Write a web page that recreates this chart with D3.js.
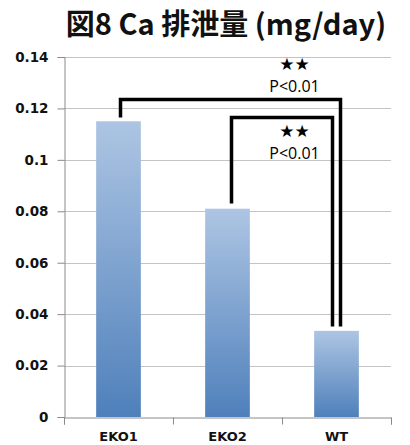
<!DOCTYPE html>
<html>
<head>
<meta charset="utf-8">
<script src="https://cdnjs.cloudflare.com/ajax/libs/d3/7.8.5/d3.min.js"></script>
<style>
  body { margin: 0; background: #fff; }
</style>
</head>
<body>
<div id="chart-area"></div>
<script>
// data
var categories = ["EKO1", "EKO2", "WT"];
var values = [0.115, 0.081, 0.0335];
var yTicks = [0, 0.02, 0.04, 0.06, 0.08, 0.1, 0.12, 0.14];
var titleText = "図8 Ca 排泄量 (mg/day)";
// significance brackets: groups and their levels (in mg/day)
var bracketFrom = ["EKO1", "EKO2"];
var bracketTo = ["WT", "WT"];
var bracketTop = [0.1235, 0.1165];
var bracketFromEnd = [0.1165, 0.083];
var bracketToEnd = [0.0352, 0.0352];
var bracketStars = ["★★", "★★"];
var bracketP = ["P<0.01", "P<0.01"];

var width = 410, height = 445;
var margin = {top: 57, bottom: 28, left: 64, right: 19};

var svg = d3.select("#chart-area").append("svg")
    .attr("width", width)
    .attr("height", height);

var defs = svg.append("defs");
var grad = defs.append("linearGradient")
    .attr("id", "barGrad")
    .attr("x1", 0).attr("y1", 0).attr("x2", 0).attr("y2", 1);
grad.append("stop").attr("offset", "0%").attr("stop-color", "#adc5e3");
grad.append("stop").attr("offset", "100%").attr("stop-color", "#4f80bb");

var x = d3.scaleBand()
    .domain(categories)
    .range([margin.left, width - margin.right])
    .padding(0);

var y = d3.scaleLinear()
    .domain([0, 0.14])
    .range([height - margin.bottom, margin.top]);

// title
svg.append("text")
    .attr("x", 226)
    .attr("y", 35)
    .attr("text-anchor", "middle")
    .attr("font-family", "'Noto Sans CJK JP', 'DejaVu Sans', sans-serif")
    .attr("font-weight", "bold")
    .attr("font-size", "29px")
    .attr("fill", "#111")
    .text(titleText);

// gridlines
svg.append("g")
    .selectAll("line")
    .data(yTicks.slice(1))
    .enter().append("line")
    .attr("x1", margin.left)
    .attr("x2", width - margin.right)
    .attr("y1", function(d) { return Math.round(y(d)) + 0.5; })
    .attr("y2", function(d) { return Math.round(y(d)) + 0.5; })
    .attr("stroke", "#c4c4c4")
    .attr("stroke-width", 1);

// bars
var barW = x.bandwidth() * 0.41;
svg.append("g")
    .selectAll("rect")
    .data(values)
    .enter().append("rect")
    .attr("x", function(d, i) { return x(categories[i]) + x.bandwidth() / 2 - barW / 2; })
    .attr("y", function(d) { return y(d); })
    .attr("width", barW)
    .attr("height", function(d) { return y(0) - y(d); })
    .attr("fill", "url(#barGrad)");

// axes
var leftAxis = d3.axisLeft(y)
    .tickValues(yTicks)
    .tickSize(7)
    .tickPadding(9)
    .tickFormat(function(d) { return d3.format("~g")(d); });
var gy = svg.append("g")
    .attr("transform", "translate(" + (margin.left + 0.5) + ",0)")
    .call(leftAxis);
gy.select(".domain").attr("stroke", "#8a8a8a");
gy.selectAll(".tick line").attr("stroke", "#8a8a8a");
gy.selectAll(".tick text")
    .attr("font-family", "'DejaVu Sans', sans-serif")
    .attr("font-weight", "bold")
    .attr("font-size", "13.5px")
    .attr("fill", "#111");

var xTickAxis = d3.axisBottom(d3.scaleLinear().domain([0, 3]).range([margin.left, width - margin.right]))
    .ticks(3)
    .tickSize(7)
    .tickFormat("");
var gx = svg.append("g")
    .attr("transform", "translate(0," + (Math.round(y(0)) + 0.5) + ")")
    .call(xTickAxis);
gx.select(".domain").attr("stroke", "#8a8a8a");
gx.selectAll(".tick line").attr("stroke", "#8a8a8a");

svg.append("g")
    .selectAll("text")
    .data(categories)
    .enter().append("text")
    .attr("x", function(d) { return x(d) + x.bandwidth() / 2; })
    .attr("y", 441)
    .attr("text-anchor", "middle")
    .attr("font-family", "'DejaVu Sans', sans-serif")
    .attr("font-weight", "bold")
    .attr("font-size", "13px")
    .attr("fill", "#111")
    .text(function(d) { return d; });

// significance brackets
var fromShift = [2, 4];
var toShift = [4, -4];
var labelAbove = [true, false];
var bg = svg.append("g");
bracketFrom.forEach(function(f, i) {
    var x1 = x(f) + x.bandwidth() / 2 + fromShift[i];
    var x2 = x(bracketTo[i]) + x.bandwidth() / 2 + toShift[i];
    var p = d3.path();
    p.moveTo(x1, y(bracketFromEnd[i]));
    p.lineTo(x1, y(bracketTop[i]));
    p.lineTo(x2, y(bracketTop[i]));
    p.lineTo(x2, y(bracketToEnd[i]));
    bg.append("path")
        .attr("d", p.toString())
        .attr("fill", "none")
        .attr("stroke", "#000")
        .attr("stroke-width", 3.5);

    var lx = x(bracketTo[i]) + x.bandwidth() / 2 - 42;
    var yTop = y(bracketTop[i]);
    var starY = labelAbove[i] ? yTop - 29 : yTop + 20;
    var pY = labelAbove[i] ? yTop - 7 : yTop + 42;
    bg.append("text")
        .attr("x", lx)
        .attr("y", starY)
        .attr("text-anchor", "middle")
        .attr("font-family", "'DejaVu Sans', sans-serif")
        .attr("font-size", "17px")
        .attr("fill", "#000")
        .text(bracketStars[i]);
    bg.append("text")
        .attr("x", lx)
        .attr("y", pY)
        .attr("text-anchor", "middle")
        .attr("font-family", "'Open Sans', sans-serif")
        .attr("font-size", "16px")
        .attr("fill", "#000")
        .text(bracketP[i]);
});
</script>
</body>
</html>
